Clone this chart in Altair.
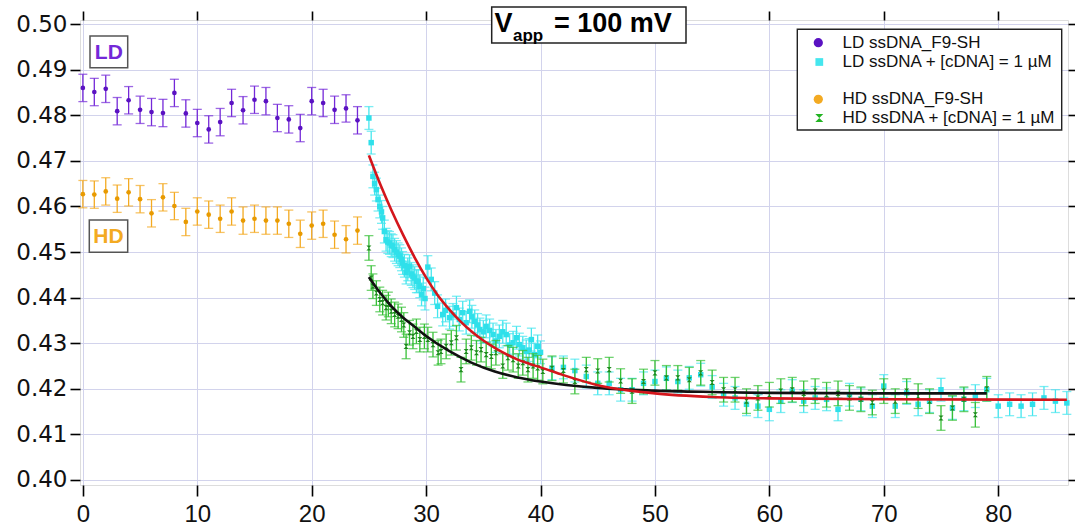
import altair as alt
import pandas as pd

# ---------------- data ----------------
ld_x = list(range(25))
ld_y = [0.4860, 0.4851, 0.4858, 0.4809, 0.4833, 0.4812, 0.4807, 0.4805, 0.4849, 0.4804,
        0.4783, 0.4769, 0.4785, 0.4827, 0.4811, 0.4834, 0.4831, 0.4794, 0.4791, 0.4772,
        0.4831, 0.4827, 0.4812, 0.4815, 0.4789]
ld_err = 0.003

hd_x = list(range(25))
hd_y = [0.4627, 0.4626, 0.4633, 0.4617, 0.4631, 0.4616, 0.4585, 0.4620, 0.4601, 0.4566,
        0.4589, 0.4582, 0.4573, 0.4589, 0.4569, 0.4573, 0.4569, 0.4569, 0.4562, 0.4540,
        0.4558, 0.4562, 0.4538, 0.4528, 0.4547]
hd_err = 0.003

cy_x = [25.0, 25.2, 25.35, 25.5, 25.65, 25.8, 25.95, 26.1, 26.2, 26.35,
        26.5, 26.65, 26.8, 26.95, 27.1, 27.25, 27.4, 27.55, 27.7, 27.85,
        27.95, 28.1, 28.25, 28.4, 28.55, 28.7, 28.85, 29.0, 29.15, 29.3,
        29.45, 29.6, 29.75, 29.9, 30.15, 30.45, 30.75, 31.0, 31.45, 31.7,
        32.05, 32.35, 32.65, 32.9, 33.2, 33.5, 33.8, 34.0, 34.25, 34.5,
        34.7, 35.0, 35.25, 35.55, 35.85, 36.1, 36.4, 36.7, 37.0, 37.3,
        37.6, 37.9, 38.15, 38.45, 38.75, 39.0, 39.2, 39.45, 39.75, 40.0,
        41, 42, 43, 44, 45, 46, 47, 48, 49, 50,
        51, 52, 53, 54, 55, 56, 57, 58, 59, 60,
        61, 62, 63, 64, 65, 66, 67, 68, 69, 70,
        71, 72, 73, 74, 75, 76, 77, 78, 79, 80,
        81, 82, 83, 84, 85, 86]
cy_y = [0.4794, 0.4740, 0.4666, 0.4650, 0.4637, 0.4615, 0.4600, 0.4588, 0.4575, 0.4545,
        0.4527, 0.4522, 0.4520, 0.4515, 0.4513, 0.4505, 0.4500, 0.4495, 0.4491, 0.4484,
        0.4476, 0.4470, 0.4455, 0.4462, 0.4469, 0.4452, 0.4447, 0.4443, 0.4436, 0.4436,
        0.4425, 0.4407, 0.4420, 0.4398, 0.4467, 0.4440, 0.4410, 0.4381, 0.4363, 0.4372,
        0.4356, 0.4362, 0.4378, 0.4352, 0.4367, 0.4345, 0.4370, 0.4358, 0.4348, 0.4340,
        0.4330, 0.4325, 0.4337, 0.4328, 0.4319, 0.4305, 0.4315, 0.4325, 0.4319, 0.4296,
        0.4301, 0.4312, 0.4297, 0.4290, 0.4282, 0.4285, 0.4308, 0.4275, 0.4293, 0.4280,
        0.4245, 0.4247, 0.4240, 0.4227, 0.4212, 0.4212, 0.4198, 0.4198, 0.4212, 0.4216,
        0.4223, 0.4216, 0.4224, 0.4231, 0.4204, 0.4187, 0.4180, 0.4166, 0.4162, 0.4155,
        0.4173, 0.4195, 0.4173, 0.4180, 0.4177, 0.4155, 0.4187, 0.4177, 0.4162, 0.4206,
        0.4162, 0.4191, 0.4166, 0.4173, 0.4198, 0.4158, 0.4177, 0.4184, 0.4198, 0.4162,
        0.4166, 0.4162, 0.4166, 0.4180, 0.4173, 0.4169]
cy_err = 0.0025

gr_x = [25.0, 25.2, 25.35, 25.65, 25.95, 26.2, 26.5, 26.7, 26.95, 27.25,
        27.55, 27.85, 28.05, 28.25, 28.55, 28.85, 29.15, 29.45, 29.85, 30.15,
        30.6, 31.05, 31.3, 31.75, 32.2, 32.65, 33.05, 33.5, 33.95, 34.4,
        34.8, 35.25, 35.7, 36.1, 36.7, 37.15, 37.6, 38.05, 38.45, 38.9,
        39.35, 39.75, 40.2,
        41, 42, 43, 44, 45, 46, 47, 48, 49, 50,
        51, 52, 53, 54, 55, 56, 57, 58, 59, 60,
        61, 62, 63, 64, 65, 66, 67, 68, 69, 70,
        71, 72, 73, 74, 75, 76, 77, 78, 79]
gr_y = [0.4509, 0.4443, 0.4425, 0.4410, 0.4396, 0.4389, 0.4378, 0.4385, 0.4370, 0.4363,
        0.4359, 0.4352, 0.4340, 0.4293, 0.4323, 0.4315, 0.4326, 0.4308, 0.4315, 0.4308,
        0.4297, 0.4279, 0.4282, 0.4293, 0.4301, 0.4312, 0.4242, 0.4282, 0.4290, 0.4279,
        0.4286, 0.4275, 0.4271, 0.4279, 0.4250, 0.4268, 0.4264, 0.4250, 0.4257, 0.4242,
        0.4250, 0.4246, 0.4238,
        0.4245, 0.4240, 0.4216, 0.4242, 0.4239, 0.4242, 0.4217, 0.4195, 0.4216, 0.4235,
        0.4224, 0.4224, 0.4220, 0.4235, 0.4214, 0.4198, 0.4198, 0.4173, 0.4180, 0.4187,
        0.4195, 0.4198, 0.4190, 0.4195, 0.4187, 0.4190, 0.4180, 0.4177, 0.4170, 0.4195,
        0.4173, 0.4195, 0.4184, 0.4173, 0.4136, 0.4158, 0.4177, 0.4143, 0.4200]
gr_err = 0.0027

red_x = [25, 26, 27, 28, 29, 30, 31, 32, 33, 34, 35, 36, 37, 38, 39, 40, 42, 45, 50, 55, 60, 70, 86]
red_y = [0.4712, 0.4648, 0.4590, 0.4537, 0.4488, 0.4444, 0.4406, 0.4375, 0.4348, 0.4325,
         0.4306, 0.4290, 0.4276, 0.4264, 0.4255, 0.4247, 0.4230, 0.4208, 0.4190, 0.4182,
         0.4179, 0.4177, 0.4176]

blk_x = [25, 26, 27, 28, 29, 30, 32, 34, 36, 38, 40, 45, 50, 55, 60, 70, 79]
blk_y = [0.4445, 0.4410, 0.4380, 0.4356, 0.4336, 0.4316, 0.4283, 0.4257, 0.4238, 0.4225,
         0.4216, 0.4202, 0.4196, 0.4193, 0.4191, 0.4190, 0.4190]

x_ticks = [0, 10, 20, 30, 40, 50, 60, 70, 80]
y_ticks = [0.40, 0.41, 0.42, 0.43, 0.44, 0.45, 0.46, 0.47, 0.48, 0.49, 0.50]

legend_labels = ["LD ssDNA_F9-SH", "LD ssDNA + [cDNA] = 1 µM",
                 "HD ssDNA_F9-SH", "HD ssDNA + [cDNA] = 1 µM"]

# ---------------- styling ----------------
X_DOMAIN = [-0.25, 86.1]
Y_DOMAIN = [0.3989, 0.5009]
xs = alt.Scale(domain=X_DOMAIN, nice=False, zero=False)
ys = alt.Scale(domain=Y_DOMAIN, nice=False, zero=False)

C_LD, C_LD_PT = "#7428d8", "#5a12c2"
C_HD, C_HD_PT = "#f3aa22", "#e89a00"
C_CY, C_CY_PT = "#45e6ee", "#2fe0ea"
C_GR, C_GR_PT = "#36c036", "#1f8a1f"
C_RED, C_BLK = "#d4161c", "#111111"
HOURGLASS = "M-1,-1L1,-1L-1,1L1,1Z"
FONT = "DejaVu Sans"
SANS = "Liberation Sans"


def sdf(xv, yv, err):
    return pd.DataFrame({"x": xv, "y": yv,
                         "lo": [v - err for v in yv], "hi": [v + err for v in yv]})


def X(field="x"):
    return alt.X(f"{field}:Q", scale=xs, axis=None)


def Y(field):
    return alt.Y(f"{field}:Q", scale=ys, axis=None)


def err_series(df, bar_color, pt_color, shape, size, cap=9, sw=1.3):
    base = alt.Chart(df)
    rule = base.mark_rule(color=bar_color, strokeWidth=sw).encode(x=X(), y=Y("lo"), y2="hi:Q")
    lo = base.mark_tick(color=bar_color, orient="horizontal", size=cap, thickness=sw).encode(x=X(), y=Y("lo"))
    hi = base.mark_tick(color=bar_color, orient="horizontal", size=cap, thickness=sw).encode(x=X(), y=Y("hi"))
    pts = base.mark_point(filled=True, shape=shape, size=size, color=pt_color, opacity=1).encode(x=X(), y=Y("y"))
    return [rule, lo, hi, pts]


one = pd.DataFrame({"a": [0]})

# axes (bottom/left with labels + grid; top/right ticks only)
axes_main = alt.Chart(one).mark_point(opacity=0).encode(
    x=alt.X("ax:Q", scale=xs, axis=alt.Axis(
        orient="bottom", values=x_ticks, title=None, grid=True, gridColor="#d2d3ec",
        gridWidth=1, domain=False, ticks=True, tickSize=11, tickWidth=1.6, tickColor="black",
        labelFont="Liberation Sans Narrow, Liberation Sans", labelFontSize=24, labelColor="#111",
        labelPadding=6)),
    y=alt.Y("ay:Q", scale=ys, axis=alt.Axis(
        orient="left", values=y_ticks, format=".2f", title=None, grid=True, gridColor="#d2d3ec",
        gridWidth=1, domain=False, ticks=True, tickSize=10, tickWidth=1.6, tickColor="black",
        labelFont=FONT, labelFontSize=23, labelColor="#111", labelPadding=3)),
).transform_calculate(ax="0", ay="0.45")

axes_extra = alt.Chart(one).mark_point(opacity=0).encode(
    x=alt.X("ax:Q", scale=xs, axis=alt.Axis(
        orient="top", values=x_ticks, title=None, grid=False, labels=False, domain=False,
        tickSize=9, tickWidth=1.6, tickColor="black")),
    y=alt.Y("ay:Q", scale=ys, axis=alt.Axis(
        orient="right", values=y_ticks, title=None, grid=False, labels=False, domain=False,
        tickSize=8, tickWidth=1.6, tickColor="black")),
).transform_calculate(ax="0", ay="0.45")

layers = [axes_main, axes_extra]
layers += err_series(sdf(cy_x, cy_y, cy_err), C_CY, C_CY_PT, "square", 30)
layers += err_series(sdf(gr_x, gr_y, gr_err), C_GR, C_GR_PT, HOURGLASS, 26)
layers += err_series(sdf(ld_x, ld_y, ld_err), C_LD, C_LD_PT, "circle", 22)
layers += err_series(sdf(hd_x, hd_y, hd_err), C_HD, C_HD_PT, "circle", 22)

red = alt.Chart(pd.DataFrame({"x": red_x, "y": red_y})).mark_line(
    color=C_RED, strokeWidth=2.6, interpolate="monotone").encode(x=X(), y=Y("y"))
blk = alt.Chart(pd.DataFrame({"x": blk_x, "y": blk_y})).mark_line(
    color=C_BLK, strokeWidth=2.6, interpolate="monotone").encode(x=X(), y=Y("y"))
layers += [blk, red]


# ---------------- annotations (pixel positions in plot area) ----------------
def box(x1, y1, x2, y2, stroke="#444", sw=1.5):
    return alt.Chart(one).mark_rect(fill="white", stroke=stroke, strokeWidth=sw).encode(
        x=alt.value(x1), x2=alt.value(x2), y=alt.value(y1), y2=alt.value(y2))


def label(txt, x, y, size, color="black", weight="normal", align="left", baseline="alphabetic", font=SANS):
    return alt.Chart(one).mark_text(
        text=txt, fontSize=size, fontWeight=weight, color=color, align=align,
        baseline=baseline, font=font).encode(x=alt.value(x), y=alt.value(y))


# LD / HD tags
layers += [box(10, 16, 47.7, 47.7, stroke="#555"),
           label("LD", 28.8, 32.5, 21, C_LD, "bold", "center", "middle"),
           box(9.3, 200, 47.7, 232.3, stroke="#555"),
           label("HD", 28.5, 216.5, 21, C_HD, "bold", "center", "middle")]

# title box  V_app = 100 mV
layers += [box(411.7, -13, 606, 23, stroke="#222", sw=1.5),
           label("V", 414.5, 11.7, 27, "black", "bold"),
           label("app", 433, 21, 17, "black", "bold"),
           label("= 100 mV", 474, 11.7, 27, "black", "bold")]

# legend
leg_rows_y = [22.7, 42.0, 79.3, 98.0]
layers += [box(717.3, 9.3, 981.7, 110, stroke="#222", sw=1.4)]
layers += [
    alt.Chart(one).mark_point(filled=True, shape="circle", size=85, color=C_LD_PT, opacity=1)
    .encode(x=alt.value(738.3), y=alt.value(leg_rows_y[0])),
    alt.Chart(one).mark_point(filled=True, shape="square", size=60, color=C_CY, opacity=1)
    .encode(x=alt.value(739.3), y=alt.value(leg_rows_y[1])),
    alt.Chart(one).mark_point(filled=True, shape="circle", size=85, color=C_HD, opacity=1)
    .encode(x=alt.value(738.3), y=alt.value(leg_rows_y[2])),
    alt.Chart(one).mark_point(filled=True, shape=HOURGLASS, size=64, color="#22b322", opacity=1)
    .encode(x=alt.value(739.3), y=alt.value(leg_rows_y[3])),
]
for lab, yy in zip(legend_labels, leg_rows_y):
    layers.append(label(lab, 762.5, yy, 17, "#111", "normal", "left", "middle"))

chart = alt.layer(*layers).properties(
    width=988, height=465,
    padding={"left": 80, "top": 20, "right": 7, "bottom": 46},
    autosize=alt.AutoSizeParams(type="none"),
).configure_view(stroke="black", strokeWidth=2).configure(background="white")

chart.save("out.html", embed_options={"renderer": "svg", "actions": False})
